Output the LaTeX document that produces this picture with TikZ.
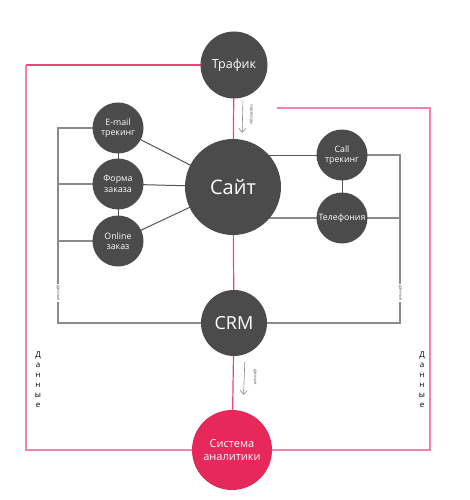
\documentclass[tikz,border=0pt]{standalone}
\usepackage{fontspec}
\setmainfont{Open Sans}
\usetikzlibrary{arrows.meta,backgrounds}

\definecolor{bubblegray}{HTML}{4B4B4B}
\definecolor{busgray}{HTML}{8A8A8A}
\definecolor{linkgray}{HTML}{555555}
\definecolor{datapink}{HTML}{EC4677}
\definecolor{lightpink}{HTML}{F283A6}
\definecolor{crimson}{HTML}{E6295A}

\tikzset{
  bubble/.style={circle, fill=bubblegray, text=white, inner sep=0pt,
    minimum size=#1, align=center},
  smallbubble/.style={bubble=51pt, font=\fontsize{8.8}{10.5}\selectfont},
  link/.style={draw=linkgray, line width=1pt},
  bus/.style={draw=busgray, line width=1.3pt},
  pinkline/.style={draw=datapink, line width=1.2pt},
  outerline/.style={draw=lightpink, line width=1.3pt},
  flowarrow/.style={draw=busgray, line width=0.6pt, -{Straight Barb[length=4pt,width=7pt]}},
  tinylabel/.style={font=\fontsize{4.2}{5}\selectfont, text=black!65, fill=white,
    inner sep=1pt, rotate=-90},
  stacklabel/.style={font=\fontsize{8}{10}\selectfont, align=center, inner sep=0pt}
}

\begin{document}
\begin{tikzpicture}[x=1pt, y=-1pt]
  \useasboundingbox (0,0) rectangle (470,500);

  % main bubbles
  \node[bubble=67pt, font=\fontsize{12.5}{14}\selectfont] (traffic) at (234,65) {Трафик};
  \node[bubble=96pt, font=\fontsize{20}{22}\selectfont] (site) at (233,187) {Сайт};
  \node[bubble=66pt, font=\fontsize{18}{20}\selectfont] (crm) at (234,323) {CRM};
  \node[bubble=80pt, fill=crimson, font=\fontsize{11}{13.5}\selectfont] (analytics) at (232,450) {Система\\аналитики};

  % sources on the left
  \node[smallbubble] (email) at (118,128) {E-mail\\трекинг};
  \node[smallbubble] (order) at (118,184) {Форма\\заказа};
  \node[smallbubble] (online) at (118,241) {Online\\заказ};

  % sources on the right
  \node[smallbubble] (calltrack) at (342,155) {Call\\трекинг};
  \node[smallbubble] (phone) at (342,218) {Телефония};

  % bus corners
  \coordinate (lefttop) at (58,128);
  \coordinate (leftbot) at (58,323);
  \coordinate (righttop) at (400,155);
  \coordinate (rightbot) at (400,323);
  \coordinate (outerleft) at (26,450);
  \coordinate (outerright) at (430,450);
  \coordinate (rstart) at (277,108);

  \begin{scope}[on background layer]
    % links to the site
    \draw[link] (email.center) -- (site.center);
    \draw[link] (order.center) -- (site.center);
    \draw[link] (online.center) -- (site.center);
    \draw[link] (email.center) -- (online.center);
    \draw[link] (site.center |- calltrack) -- (calltrack.center);
    \draw[link] (calltrack.center) -- (phone.center);

    % data bus
    \draw[bus] (email.center) -- (lefttop) -- (leftbot) -- (rightbot) -- (righttop) -- (calltrack.center);
    \draw[bus] (order.center) -- (order -| lefttop);
    \draw[bus] (online.center) -- (online -| lefttop);
    \draw[bus] (site.center |- phone) -- (phone -| righttop);

    % pink data path
    \draw[pinkline] (traffic.center) -- (site.center);
    \draw[pinkline] (site.center) -- (crm.center);
    \draw[pinkline] (crm.center) -- (analytics.center);
    \draw[pinkline] (traffic.center) -- (traffic -| outerleft);
    \draw[outerline] (traffic -| outerleft) |- (analytics.center);
    \draw[outerline] (rstart) -| (outerright) -- (analytics.center);
  \end{scope}

  % flow arrows
  \draw[flowarrow, shorten <=2pt, shorten >=6pt] ([xshift=9pt]traffic.south) -- ([xshift=9pt]site.north);
  \draw[flowarrow, shorten <=6pt, shorten >=15pt] ([xshift=11pt]crm.south) -- ([xshift=11pt]analytics.north);

  % tiny labels
  \node[tinylabel] (trafficnote) at (251,115) {переходы};
  \node[tinylabel] (crmnote) at (255,377) {данные};
  \node[tinylabel] (leftnote) at (58,293) {данные};
  \node[tinylabel] (rightnote) at (400,293) {данные};

  % stacked labels
  \node[stacklabel] (leftdata) at (38,380) {Д\\а\\н\\н\\ы\\е};
  \node[stacklabel] (rightdata) at (422,380) {Д\\а\\н\\н\\ы\\е};
\end{tikzpicture}
\end{document}
